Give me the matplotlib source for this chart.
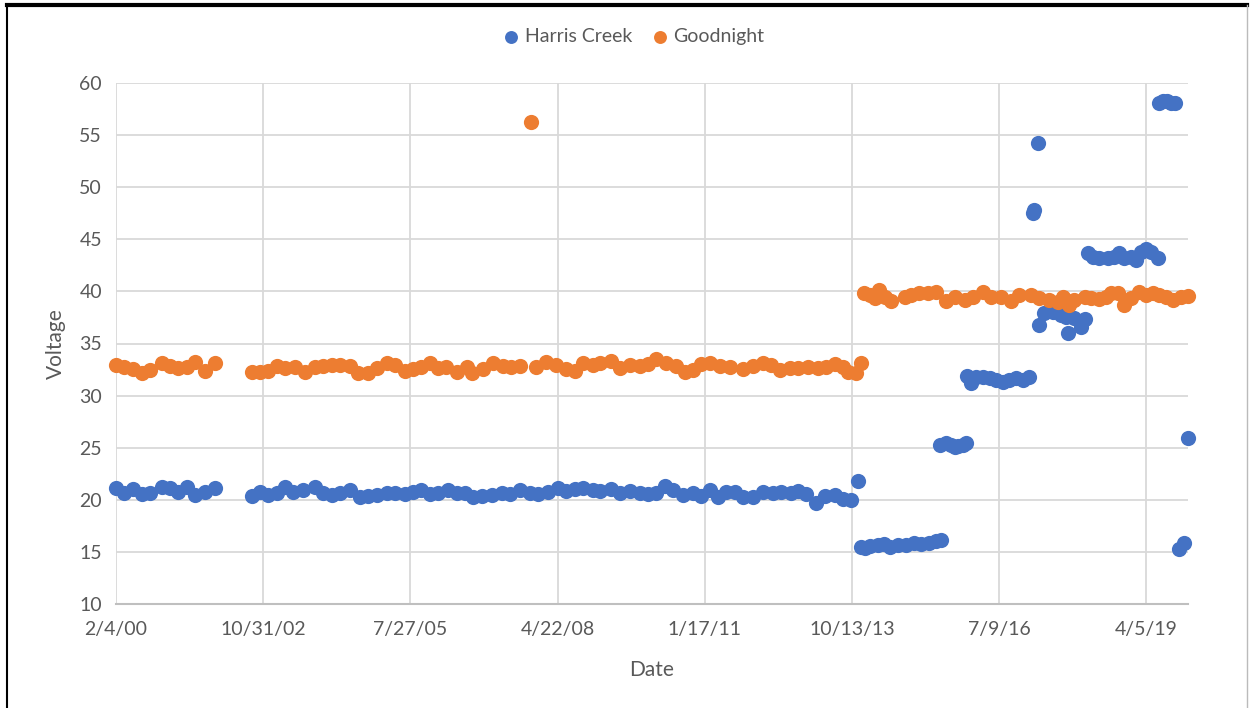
import numpy as np
import matplotlib.pyplot as plt
from matplotlib.lines import Line2D
from matplotlib.ticker import FixedLocator, FuncFormatter
from datetime import datetime, timedelta

# dates are Excel serial day numbers (36560 = 2/4/2000)
harris_dates = [36560, 36614, 36675, 36737, 36791, 36872, 36927, 36981, 37042, 37096, 37164, 37232,
                37481, 37538, 37594, 37651, 37707, 37764, 37832, 37911, 37967, 38024, 38081, 38149,
                38217, 38273, 38330, 38398, 38454, 38522, 38578, 38635, 38692, 38748, 38816, 38873,
                38929, 38986, 39043, 39111, 39179, 39235, 39303, 39371, 39427, 39495, 39563, 39620,
                39676, 39733, 39800, 39846, 39925, 39982, 40050, 40117, 40174, 40231, 40287, 40344,
                40411, 40479, 40536, 40593, 40649, 40706, 40762, 40819, 40887, 40955, 41022, 41079,
                41147, 41192, 41249, 41317, 41373, 41441, 41498, 41555, 41600,
                41623, 41645, 41679, 41735, 41774, 41815, 41871, 41928, 41984, 42030, 42086, 42127, 42166,
                42154, 42200, 42229, 42256, 42283, 42312, 42335,
                42344, 42369, 42403, 42448, 42494, 42539, 42584, 42629, 42675, 42720, 42765,
                42788, 42799, 42822,
                42833, 42867, 42923, 42980, 43010, 43025, 43071, 43116, 43145,
                43161, 43195, 43240, 43297, 43342, 43376, 43410, 43456, 43490, 43524, 43557, 43591, 43636,
                43648, 43675, 43702, 43729, 43756,
                43784, 43817, 43840]
harris_volts = [21.1, 20.62, 21.0, 20.56, 20.68, 21.2, 21.16, 20.78, 21.26, 20.46, 20.78, 21.1,
                20.35, 20.78, 20.46, 20.68, 21.26, 20.78, 20.94, 21.2, 20.62, 20.46, 20.62, 20.94,
                20.3, 20.36, 20.46, 20.68, 20.68, 20.56, 20.78, 20.94, 20.56, 20.62, 20.94, 20.68,
                20.62, 20.3, 20.36, 20.46, 20.62, 20.56, 20.94, 20.62, 20.56, 20.78, 21.1, 20.87,
                21.0, 21.1, 20.94, 20.87, 21.0, 20.68, 20.87, 20.62, 20.56, 20.68, 21.32, 20.94,
                20.46, 20.62, 20.36, 20.94, 20.3, 20.78, 20.78, 20.3, 20.3, 20.78, 20.68, 20.78,
                20.62, 20.87, 20.56, 19.72, 20.36, 20.46, 20.05, 19.98, 21.83,
                15.5, 15.35, 15.57, 15.66, 15.75, 15.5, 15.66, 15.66, 15.82, 15.76, 15.82, 16.0, 16.1,
                25.26, 25.42, 25.3, 25.1, 25.2, 25.26, 25.42,
                31.9, 31.18, 31.81, 31.81, 31.66, 31.5, 31.33, 31.5, 31.66, 31.5, 31.81,
                47.5, 47.8, 54.2,
                36.78, 37.9, 38.05, 37.73, 37.57, 35.98, 37.42, 36.61, 37.32,
                43.71, 43.33, 43.18, 43.18, 43.33, 43.66, 43.18, 43.33, 43.01, 43.81, 44.04, 43.81, 43.24,
                58.1, 58.25, 58.3, 58.1, 58.05,
                15.25, 15.9, 25.9]

goodnight_dates = [36560, 36614, 36675, 36737, 36791, 36872, 36927, 36981, 37042, 37096, 37164, 37232,
                   37481, 37538, 37594, 37651, 37707, 37775, 37843, 37911, 37967, 38024, 38081, 38149,
                   38205, 38273, 38330, 38398, 38454, 38522, 38578, 38635, 38692, 38748, 38805, 38873,
                   38941, 38975, 39054, 39122, 39189, 39246, 39303, 39377, 39416, 39484, 39552, 39620,
                   39676, 39733, 39800, 39846, 39925, 39982, 40050, 40117, 40174, 40231, 40299, 40367,
                   40423, 40479, 40536, 40593, 40661, 40728, 40819, 40887, 40955, 41012, 41068, 41136,
                   41192, 41260, 41328, 41385, 41441, 41498, 41530, 41589, 41623,
                   41638, 41679, 41713, 41742, 41781, 41826, 41917, 41962, 42018, 42075, 42132, 42200,
                   42256, 42324, 42380, 42448, 42505, 42573, 42641, 42697, 42777, 42833, 42901, 42957,
                   42991, 43037, 43071, 43139, 43184, 43240, 43286, 43320, 43365, 43410, 43456, 43512,
                   43557, 43602, 43648, 43693, 43738, 43795, 43845]
goodnight_volts = [32.94, 32.78, 32.52, 32.14, 32.46, 33.16, 32.84, 32.62, 32.78, 33.25, 32.39, 33.16,
                   32.29, 32.29, 32.39, 32.84, 32.62, 32.77, 32.29, 32.72, 32.84, 32.94, 32.94, 32.84,
                   32.2, 32.14, 32.62, 33.1, 32.94, 32.39, 32.52, 32.77, 33.1, 32.62, 32.77, 32.29,
                   32.77, 32.14, 32.52, 33.1, 32.84, 32.77, 32.84, 56.26, 32.77, 33.25, 32.94, 32.52,
                   32.39, 33.1, 32.94, 33.1, 33.35, 32.62, 32.94, 32.84, 33.03, 33.48, 33.16, 32.84,
                   32.29, 32.46, 33.03, 33.1, 32.84, 32.77, 32.52, 32.84, 33.16, 32.94, 32.46, 32.62,
                   32.62, 32.72, 32.62, 32.72, 33.03, 32.72, 32.3, 32.14, 33.16,
                   39.88, 39.65, 39.34, 40.13, 39.49, 39.11, 39.49, 39.65, 39.82, 39.88, 39.97, 39.11,
                   39.49, 39.17, 39.49, 39.97, 39.49, 39.49, 39.11, 39.65, 39.65, 39.34, 39.17, 39.01,
                   39.49, 38.69, 39.17, 39.49, 39.34, 39.24, 39.49, 39.88, 39.82, 38.69, 39.34, 39.97,
                   39.65, 39.82, 39.65, 39.49, 39.17, 39.49, 39.56]

x_start = 36560
x_end = 43842
tick_step = 1000


def serial_label(s, pos):
    d = datetime(1899, 12, 30) + timedelta(days=int(round(s)))
    return "%d/%d/%s" % (d.month, d.day, d.strftime("%y"))


plt.rcParams['font.family'] = ['Lato', 'DejaVu Sans']
grey_txt = '#595959'
grid_col = '#d9d9d9'

fig = plt.figure(figsize=(12.53, 7.08), dpi=100)
ax = fig.add_axes([116/1253, 1 - 604/708, (1188 - 116)/1253, (604 - 83)/708])

ax.scatter(harris_dates, harris_volts, s=120, color='#4472c4', label='Harris Creek',
           zorder=3, clip_on=False, linewidths=0)
ax.scatter(goodnight_dates, goodnight_volts, s=120, color='#ed7d31', label='Goodnight',
           zorder=3, clip_on=False, linewidths=0)

ax.set_xlim(x_start, x_end)
ax.set_ylim(10, 60)
ax.xaxis.set_major_locator(FixedLocator(np.arange(x_start, x_end, tick_step)))
ax.xaxis.set_major_formatter(FuncFormatter(serial_label))
ax.set_yticks(np.arange(10, 61, 5))

ax.grid(True, color=grid_col, linewidth=1.3, zorder=0)
ax.set_axisbelow(True)
for side in ['top', 'right', 'left']:
    ax.spines[side].set_visible(False)
ax.spines['bottom'].set_color('#bfbfbf')
ax.spines['bottom'].set_linewidth(1.5)
ax.tick_params(length=0, labelsize=14, labelcolor=grey_txt, pad=12)
ax.tick_params(axis='y', pad=10)

ax.set_xlabel('Date', fontsize=15, color=grey_txt, labelpad=16)
ax.set_ylabel('Voltage', fontsize=15, color=grey_txt, labelpad=10)

fig.legend(loc='center', bbox_to_anchor=(0.506, 0.948), ncol=2, frameon=False,
           fontsize=14, handletextpad=0.3, handlelength=0.8, columnspacing=1.0,
           markerscale=0.85, labelcolor=grey_txt)

# outer border of the picture
fig.add_artist(Line2D([7/1253, 1247/1253], [1 - 5/708, 1 - 5/708], color='black', linewidth=3))
fig.add_artist(Line2D([7/1253, 7/1253], [0, 1 - 5/708], color='black', linewidth=1.5))
fig.add_artist(Line2D([1247/1253, 1247/1253], [0, 1 - 5/708], color='#bbbbbb', linewidth=1))

fig.savefig('out.png', dpi=100)
